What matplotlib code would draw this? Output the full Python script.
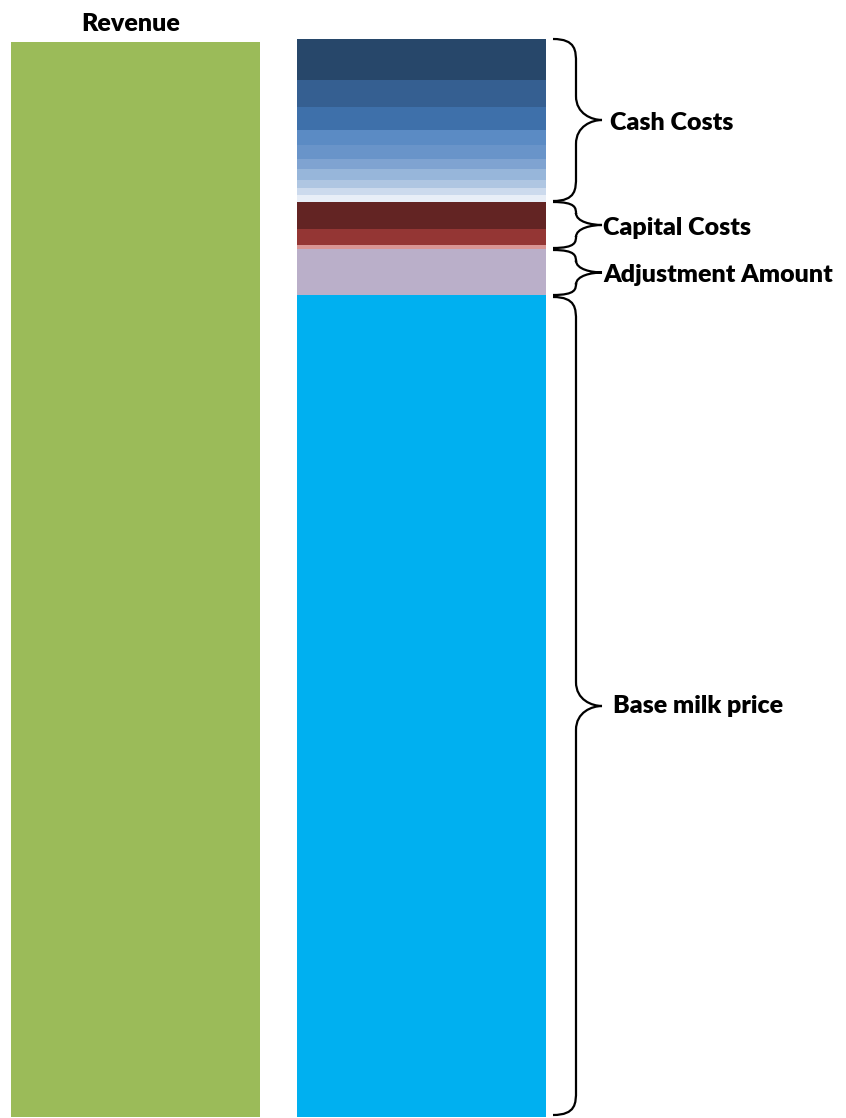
import matplotlib.pyplot as plt
from matplotlib.path import Path
from matplotlib.patches import PathPatch

# values (arbitrary units, 1 unit ~ 1 px)
revenue = 1075

base_milk = 822
adjustment = 46
capital = [27, 16, 4]          # top to bottom
cash = [41, 27, 23, 15, 14, 10, 11, 8, 7, 7]   # top to bottom

cash_colors = ['#27476A', '#355F91', '#3E70AA', '#5B8BC4', '#6994C9',
               '#7FA3D1', '#97B6DA', '#AFC6E2', '#CCDAED', '#E8EEF7']
capital_colors = ['#632423', '#943634', '#D99594']
adjust_color = '#BAAFC9'
base_color = '#00B0F0'
revenue_color = '#9BBB59'

plt.rcParams['font.family'] = ['Lato', 'DejaVu Sans']

fig = plt.figure(figsize=(8.46, 11.18), dpi=100)
ax = fig.add_axes([0, 0, 1, 1])
ax.set_xlim(0, 846)
ax.set_ylim(-1, 1117)
ax.axis('off')

x_rev = 135.5
x_cost = 421.5
w = 249

ax.bar(x_rev, revenue, width=w, color=revenue_color)

# stack bottom-up
bottom = 0
ax.bar(x_cost, base_milk, width=w, bottom=bottom, color=base_color)
base_span = (bottom, bottom + base_milk)
bottom += base_milk
ax.bar(x_cost, adjustment, width=w, bottom=bottom, color=adjust_color)
adj_span = (bottom, bottom + adjustment)
bottom += adjustment
cap_start = bottom
for v, c in zip(capital[::-1], capital_colors[::-1]):
    ax.bar(x_cost, v, width=w, bottom=bottom, color=c)
    bottom += v
cap_span = (cap_start, bottom)
cash_start = bottom
for v, c in zip(cash[::-1], cash_colors[::-1]):
    ax.bar(x_cost, v, width=w, bottom=bottom, color=c)
    bottom += v
cash_span = (cash_start, bottom)


def brace(y0, y1, xl=553, xs=576, xt=602, r=12):
    # curly brace opening to the left, tip pointing right
    mid = (y0 + y1) / 2
    verts = [(xl, y1),
             (xs, y1), (xs, y1 - r), (xs, y1 - 2 * r),
             (xs, mid + 2 * r),
             (xs, mid + r / 2), (xt - 10, mid), (xt, mid),
             (xt - 10, mid), (xs, mid - r / 2), (xs, mid - 2 * r),
             (xs, y0 + 2 * r),
             (xs, y0 + r), (xs, y0), (xl, y0)]
    codes = [Path.MOVETO,
             Path.CURVE4, Path.CURVE4, Path.CURVE4,
             Path.LINETO,
             Path.CURVE4, Path.CURVE4, Path.CURVE4,
             Path.CURVE4, Path.CURVE4, Path.CURVE4,
             Path.LINETO,
             Path.CURVE4, Path.CURVE4, Path.CURVE4]
    ax.add_patch(PathPatch(Path(verts, codes), fill=False, lw=1.6, color='black'))
    return mid


lbl = dict(fontsize=18, fontweight='heavy', va='center', ha='left')
m = brace(cash_span[0] + 1, cash_span[1])
ax.text(610, m - 3, 'Cash Costs', **lbl)
m = brace(cap_span[0] + 1, cap_span[1], r=6)
ax.text(603, m - 3, 'Capital Costs', **lbl)
m = brace(adj_span[0], adj_span[1] - 1, r=6)
ax.text(603, m - 2, 'Adjustment Amount', **lbl)
m = brace(base_span[0] + 2, base_span[1] - 2)
ax.text(613, m, 'Base milk price', **lbl)

ax.text(x_rev - 5, 1093, 'Revenue', fontsize=18, fontweight='heavy', ha='center', va='center')

fig.savefig('out.png', dpi=100)
